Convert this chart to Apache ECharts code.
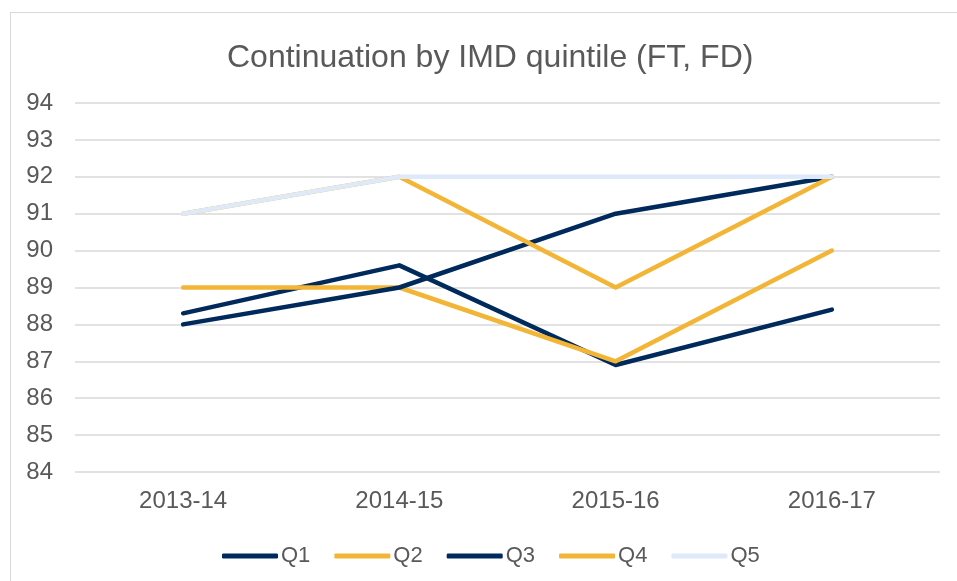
<!DOCTYPE html>
<html>
<head>
<meta charset="utf-8">
<script src="https://cdn.jsdelivr.net/npm/echarts@6/dist/echarts.min.js"></script>
<style>
  html, body { margin: 0; padding: 0; background: #fff; }
  #main { width: 957px; height: 581px; }
  #frame { position: absolute; left: 10px; top: 12px; width: 960px; height: 600px; border: 1px solid #d9d9d9; box-sizing: border-box; }
</style>
</head>
<body>
<div id="frame"></div>
<div id="main" style="position:absolute;left:0;top:0"></div>
<script>
// categories and values
var years = ["2013-14", "2014-15", "2015-16", "2016-17"];
var q1 = [88.3, 89.6, 86.9, 88.4];
var q2 = [89, 89, 87, 90];
var q3 = [88, 89, 91, 92];
var q4 = [91, 92, 89, 92];
var q5 = [91, 92, 92, 92];

var navy = '#002A5C';
var orange = '#F2B536';
var pale = '#DEEAF9';

function line(name, data, color) {
  return {
    name: name,
    type: 'line',
    data: data,
    symbol: 'none',
    lineStyle: { width: 4.5, color: color, cap: 'round', join: 'round' },
    itemStyle: { color: color },
    emphasis: { disabled: true }
  };
}

var chart = echarts.init(document.getElementById('main'));
chart.setOption({
  animation: false,
  textStyle: { fontFamily: 'Liberation Sans, Arial, sans-serif' },
  title: {
    text: 'Continuation by IMD quintile (FT, FD)',
    left: 222,
    top: 37,
    textStyle: { fontSize: 32, fontWeight: 'normal', color: '#595959' }
  },
  legend: {
    top: 540,
    left: 217,
    itemWidth: 56,
    itemHeight: 5,
    itemGap: 24,
    icon: 'roundRect',
    textStyle: { fontSize: 22, color: '#595959', padding: [0, 0, 0, -2] },
    data: ['Q1', 'Q2', 'Q3', 'Q4', 'Q5']
  },
  grid: { left: 75, right: 17, top: 103, bottom: 109 },
  xAxis: {
    type: 'category',
    data: years,
    axisLine: { show: false },
    axisTick: { show: false },
    axisLabel: { fontSize: 24, color: '#595959', margin: 17 }
  },
  yAxis: {
    type: 'value',
    min: 84,
    max: 94,
    interval: 1,
    axisLine: { show: false },
    axisTick: { show: false },
    axisLabel: { fontSize: 24, color: '#595959', margin: 22, align: 'right' },
    splitLine: { lineStyle: { color: '#d9d9d9', width: 1.5 } }
  },
  series: [
    line('Q1', q1, navy),
    line('Q2', q2, orange),
    line('Q3', q3, navy),
    line('Q4', q4, orange),
    line('Q5', q5, pale)
  ]
});
</script>
</body>
</html>
